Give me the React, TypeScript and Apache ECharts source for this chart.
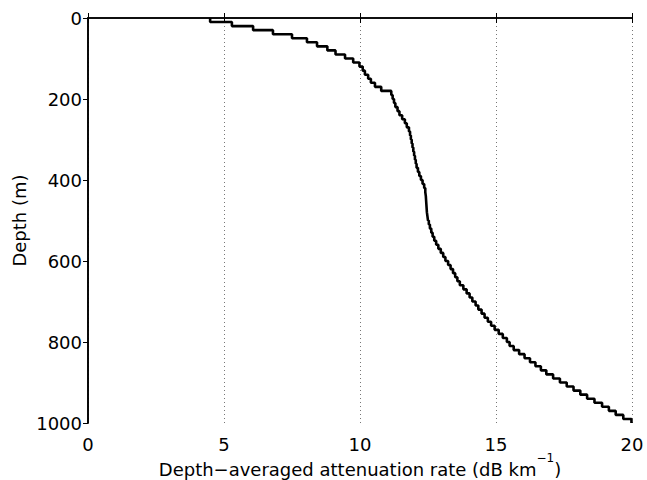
import React, { useEffect, useRef } from "react";
import * as echarts from "echarts";

// Top depth of each 10 m layer (m)
const layerTops = [
  0, 10, 20, 30, 40, 50, 60, 70, 80, 90,
  100, 110, 120, 130, 140, 150, 160, 170, 180, 190,
  200, 210, 220, 230, 240, 250, 260, 270, 280, 290,
  300, 310, 320, 330, 340, 350, 360, 370, 380, 390,
  400, 410, 420, 430, 440, 450, 460, 470, 480, 490,
  500, 510, 520, 530, 540, 550, 560, 570, 580, 590,
  600, 610, 620, 630, 640, 650, 660, 670, 680, 690,
  700, 710, 720, 730, 740, 750, 760, 770, 780, 790,
  800, 810, 820, 830, 840, 850, 860, 870, 880, 890,
  900, 910, 920, 930, 940, 950, 960, 970, 980, 990,
];
const layerBottoms = [
  10, 20, 30, 40, 50, 60, 70, 80, 90, 100,
  110, 120, 130, 140, 150, 160, 170, 180, 190, 200,
  210, 220, 230, 240, 250, 260, 270, 280, 290, 300,
  310, 320, 330, 340, 350, 360, 370, 380, 390, 400,
  410, 420, 430, 440, 450, 460, 470, 480, 490, 500,
  510, 520, 530, 540, 550, 560, 570, 580, 590, 600,
  610, 620, 630, 640, 650, 660, 670, 680, 690, 700,
  710, 720, 730, 740, 750, 760, 770, 780, 790, 800,
  810, 820, 830, 840, 850, 860, 870, 880, 890, 900,
  910, 920, 930, 940, 950, 960, 970, 980, 990, 1000,
];
// Depth-averaged attenuation rate (dB/km) for each layer
const rates = [
  4.49, 5.29, 6.07, 6.8, 7.5, 8.05, 8.42, 8.8, 9.1, 9.45,
  9.75, 9.98, 10.1, 10.18, 10.3, 10.4, 10.55, 10.78, 11.15, 11.2,
  11.25, 11.3, 11.38, 11.45, 11.55, 11.65, 11.72, 11.8, 11.84, 11.87,
  11.9, 11.93, 11.96, 11.99, 12.02, 12.05, 12.08, 12.13, 12.18, 12.24,
  12.3, 12.36, 12.4, 12.42, 12.43, 12.44, 12.45, 12.46, 12.48, 12.5,
  12.53, 12.57, 12.62, 12.67, 12.73, 12.8, 12.88, 12.97, 13.06, 13.14,
  13.24, 13.33, 13.42, 13.5, 13.58, 13.67, 13.8, 13.92, 14.03, 14.13,
  14.25, 14.35, 14.47, 14.58, 14.7, 14.82, 14.95, 15.1, 15.25, 15.4,
  15.5, 15.65, 15.85, 16.05, 16.25, 16.45, 16.65, 16.85, 17.1, 17.35,
  17.6, 17.85, 18.1, 18.35, 18.62, 18.9, 19.15, 19.4, 19.68, 19.98,
];

const xTicks = [0, 5, 10, 15, 20];
const yTicks = [0, 200, 400, 600, 800, 1000];

const FONT = "'DejaVu Sans', 'Liberation Sans', Arial, sans-serif";

export default function App() {
  const ref = useRef<HTMLDivElement>(null);

  useEffect(() => {
    if (!ref.current) return;
    const chart = echarts.init(ref.current, null, { renderer: "svg" });

    const stairs: number[][] = [];
    rates.forEach((v, i) => {
      stairs.push([v, layerTops[i]]);
      stairs.push([v, layerBottoms[i]]);
    });

    const xMin = xTicks[0];
    const xMax = xTicks[xTicks.length - 1];
    const xInt = xTicks[1] - xTicks[0];
    const yMin = yTicks[0];
    const yMax = yTicks[yTicks.length - 1];
    const yInt = yTicks[1] - yTicks[0];

    const lineStyle = { color: "#000", width: 1.6 };
    const tickIn = { show: true, inside: true, length: 5, lineStyle: { color: "#000", width: 1 } };
    const tickOut = { show: true, inside: false, length: 4, lineStyle: { color: "#000", width: 1 } };
    const fmt = (v: number) => String(v);

    chart.setOption({
      animation: false,
      backgroundColor: "#fff",
      grid: { left: 88, right: 15, top: 18, bottom: 57, containLabel: false, outerBoundsMode: "none" },
      xAxis: [
        {
          type: "value",
          position: "bottom",
          min: xMin,
          max: xMax,
          interval: xInt,
          axisLine: { show: true, lineStyle },
          axisTick: tickIn,
          axisLabel: { color: "#000", fontSize: 18, fontFamily: FONT, margin: 12, formatter: fmt },
          splitLine: { show: true, lineStyle: { type: [1, 3], color: "#777", width: 1 } },
          name: "{a|Depth\u2212averaged attenuation rate (dB km}{s|\u22121}{a|)}",
          nameLocation: "middle",
          nameGap: 33,
          nameMoveOverlap: false,
          nameTextStyle: {
            verticalAlign: "top",
            rich: {
              a: { fontSize: 18, fontFamily: FONT, color: "#000", lineHeight: 22, verticalAlign: "bottom" },
              s: {
                fontSize: 12,
                fontFamily: FONT,
                color: "#000",
                lineHeight: 12,
                padding: [0, 0, 14, 0],
                verticalAlign: "bottom",
              },
            },
          },
        },
        {
          type: "value",
          position: "top",
          min: xMin,
          max: xMax,
          interval: xInt,
          axisLine: { show: true, lineStyle },
          axisTick: tickIn,
          axisLabel: { show: false },
          splitLine: { show: false },
        },
      ],
      yAxis: [
        {
          type: "value",
          position: "left",
          inverse: true,
          min: yMin,
          max: yMax,
          interval: yInt,
          axisLine: { show: true, lineStyle },
          axisTick: tickOut,
          axisLabel: { color: "#000", fontSize: 18, fontFamily: FONT, margin: 6, formatter: fmt },
          splitLine: { show: false },
          name: "Depth (m)",
          nameLocation: "middle",
          nameGap: 60,
          nameMoveOverlap: false,
          nameTextStyle: { fontSize: 18, fontFamily: FONT, color: "#000" },
        },
        {
          type: "value",
          position: "right",
          inverse: true,
          min: yMin,
          max: yMax,
          interval: yInt,
          axisLine: { show: true, lineStyle },
          axisTick: tickIn,
          axisLabel: { show: false },
          splitLine: { show: false },
        },
      ],
      series: [
        {
          type: "line",
          xAxisIndex: 0,
          yAxisIndex: 0,
          data: stairs,
          showSymbol: false,
          symbol: "none",
          lineStyle: { color: "#000", width: 2.6 },
          clip: true,
        },
      ],
    });

    return () => chart.dispose();
  }, []);

  return (
    <div
      ref={ref}
      style={{ position: "absolute", left: 0, top: 0, width: 647, height: 480 }}
    />
  );
}
